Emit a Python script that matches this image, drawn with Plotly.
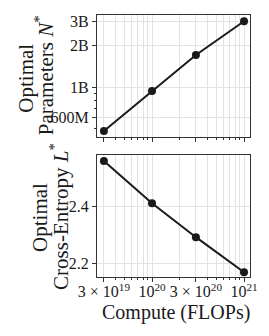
import plotly.graph_objects as go
from plotly.subplots import make_subplots

compute = [3e19, 1e20, 3e20, 1e21]
params = [4.8e8, 9.35e8, 1.71e9, 3.0e9]
loss = [2.558, 2.410, 2.291, 2.168]

x_tickvals = [3e19, 1e20, 3e20, 1e21]
x_ticktext = ["3 × 10<sup>19</sup>", "10<sup>20</sup>", "3 × 10<sup>20</sup>", "10<sup>21</sup>"]
x_minor = [4e19, 5e19, 6e19, 7e19, 8e19, 9e19, 2e20, 4e20, 5e20, 6e20, 7e20, 8e20, 9e20]
n_tickvals = [6e8, 1e9, 2e9, 3e9]
n_ticktext = ["600M", "1B", "2B", "3B"]
n_minor = [4e8, 5e8, 7e8, 8e8, 9e8]
l_tickvals = [2.2, 2.4]
l_ticktext = ["2.2", "2.4"]

FONT = "Liberation Serif"
INK = "#1a1a1a"
GRID = "#e3e3e3"

fig = make_subplots(rows=2, cols=1, shared_xaxes=True, vertical_spacing=0.05)

fig.add_trace(go.Scatter(x=compute, y=params, mode="lines+markers",
                         line=dict(color=INK, width=2),
                         marker=dict(color=INK, size=8)), row=1, col=1)
fig.add_trace(go.Scatter(x=compute, y=loss, mode="lines+markers",
                         line=dict(color=INK, width=2),
                         marker=dict(color=INK, size=8)), row=2, col=1)

xcommon = dict(type="log", range=[19.402, 21.065], showline=True, mirror=True,
               linecolor="#333", linewidth=1.2, ticks="outside", ticklen=4,
               tickcolor="#333", tickmode="array", tickvals=x_tickvals, ticktext=x_ticktext,
               showgrid=True, gridcolor=GRID, gridwidth=1, zeroline=False, automargin=False,
               minor=dict(tickmode="array", tickvals=x_minor, ticks="outside", ticklen=2,
                          tickcolor="#333", showgrid=True, gridcolor=GRID, gridwidth=1),
               tickfont=dict(family=FONT, size=16, color=INK))

fig.update_xaxes(**xcommon)
fig.update_xaxes(showticklabels=False, row=1, col=1)
fig.update_xaxes(ticklabelstandoff=-4, row=2, col=1)

fig.update_yaxes(row=1, col=1, type="log", range=[8.638, 9.522], showline=True, mirror=True,
                 linecolor="#333", linewidth=1.2, ticks="outside", ticklen=4, tickcolor="#333",
                 tickmode="array", tickvals=n_tickvals, ticktext=n_ticktext, showgrid=True,
                 gridcolor=GRID, zeroline=False, automargin=False,
                 minor=dict(tickmode="array", tickvals=n_minor, ticks="outside", ticklen=2,
                            tickcolor="#333", showgrid=False),
                 tickfont=dict(family=FONT, size=16, color=INK))
fig.update_yaxes(row=2, col=1, range=[2.151, 2.579], showline=True, mirror=True,
                 linecolor="#333", linewidth=1.2, ticks="outside", ticklen=4, tickcolor="#333",
                 tickmode="array", tickvals=l_tickvals, ticktext=l_ticktext, showgrid=True,
                 gridcolor=GRID, zeroline=False, automargin=False,
                 tickfont=dict(family=FONT, size=16, color=INK))

def ylab(text, x, y):
    return dict(text=text, textangle=-90, xref="paper", yref="paper", x=x, y=y,
                xanchor="center", yanchor="middle", showarrow=False,
                font=dict(family=FONT, size=21, color=INK))

fig.update_layout(
    width=269, height=336, showlegend=False,
    margin=dict(l=89, r=27, t=0, b=0),
    plot_bgcolor="white", paper_bgcolor="white",
    yaxis=dict(domain=[0.616, 0.979]),
    yaxis2=dict(domain=[0.199, 0.5625]),
    annotations=[
        ylab("Optimal", -0.47, 0.79),
        ylab("Parameters <i>N</i><sup>*</sup>", -0.346, 0.80),
        ylab("Optimal", -0.373, 0.378),
        ylab("Cross-Entropy <i>L</i><sup>*</sup>", -0.242, 0.381),
        dict(text="Compute (FLOPs)", xref="paper", yref="paper", x=0.516, y=0.095,
             xanchor="center", yanchor="middle", showarrow=False,
             font=dict(family=FONT, size=20, color=INK)),
    ],
)

fig.write_html("out.html")
